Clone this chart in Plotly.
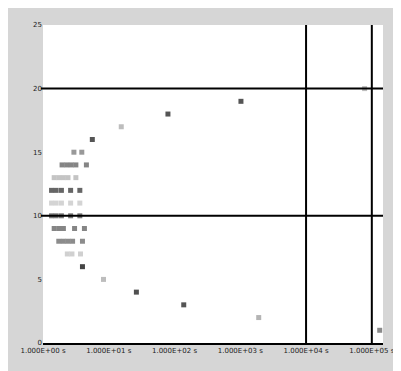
import plotly.graph_objects as go

# x positions of each point (axis units), y row of each point, and grey shade
x_vals = [
    5.12,
    3.28,
    2.14,
    1.42,
    0.92,
    0.60,
    0.37, 0.44, 0.57,
    0.24, 0.31, 0.38, 0.45, 0.60,
    0.17, 0.24, 0.31, 0.48, 0.63,
    0.13, 0.20, 0.28, 0.42, 0.56,
    0.13, 0.20, 0.28, 0.42, 0.56,
    0.13, 0.20, 0.28, 0.42, 0.56,
    0.17, 0.24, 0.31, 0.38, 0.50,
    0.29, 0.36, 0.43, 0.50, 0.66,
    0.47, 0.59,
    0.75,
    1.19,
    1.90,
    3.01,
    4.89,
]
y_vals = [
    1,
    2,
    3,
    4,
    5,
    6,
    7, 7, 7,
    8, 8, 8, 8, 8,
    9, 9, 9, 9, 9,
    10, 10, 10, 10, 10,
    11, 11, 11, 11, 11,
    12, 12, 12, 12, 12,
    13, 13, 13, 13, 13,
    14, 14, 14, 14, 14,
    15, 15,
    16,
    17,
    18,
    19,
    20,
]
row_shades = {
    1: "#8a8a8a", 2: "#b4b4b4", 3: "#555555", 4: "#505050", 5: "#bdbdbd",
    6: "#444444", 7: "#d0d0d0", 8: "#8c8c8c", 9: "#858585", 10: "#7a7a7a",
    11: "#d4d4d4", 12: "#666666", 13: "#c4c4c4", 14: "#858585", 15: "#999999",
    16: "#555555", 17: "#bdbdbd", 18: "#555555", 19: "#555555", 20: "#bdbdbd",
}

x_tickvals = [0, 1, 2, 3, 4, 5]
x_ticktext = ["1.000E+00 s", "1.000E+01 s", "1.000E+02 s", "1.000E+03 s", "1.000E+04 s", "1.000E+05 s"]
y_tickvals = [0, 5, 10, 15, 20, 25]
y_ticktext = ["0", "5", "10", "15", "20", "25"]
h_lines = [10, 20]
v_lines = [4, 5]

colors = [row_shades[y] for y in y_vals]

fig = go.Figure()
fig.add_trace(go.Scatter(
    x=x_vals, y=y_vals, mode="markers",
    marker=dict(symbol="square", size=5, color=colors, line=dict(width=0)),
    hoverinfo="skip", showlegend=False,
))

for h in h_lines:
    fig.add_shape(type="line", xref="paper", yref="y", x0=-0.006, x1=1, y0=h, y1=h,
                  line=dict(color="black", width=2), layer="above")
for v in v_lines:
    fig.add_shape(type="line", xref="x", yref="paper", x0=v, x1=v, y0=0, y1=1,
                  line=dict(color="black", width=2), layer="above")

fig.update_layout(
    width=401, height=371,
    margin=dict(l=32, r=26, t=17, b=36),
    paper_bgcolor="#d6d6d6",
    plot_bgcolor="white",
    font=dict(family="DejaVu Sans", size=7, color="#222222"),
    xaxis=dict(range=[0, 5.17], tickvals=x_tickvals, ticktext=x_ticktext,
               showgrid=False, zeroline=False, showline=True, linecolor="black",
               linewidth=2, ticks="", tickfont=dict(size=7)),
    yaxis=dict(range=[0, 25], tickvals=y_tickvals, ticktext=y_ticktext,
               showgrid=False, zeroline=False, showline=False, ticks="",
               tickfont=dict(size=7)),
)

fig.write_html("out.html")
